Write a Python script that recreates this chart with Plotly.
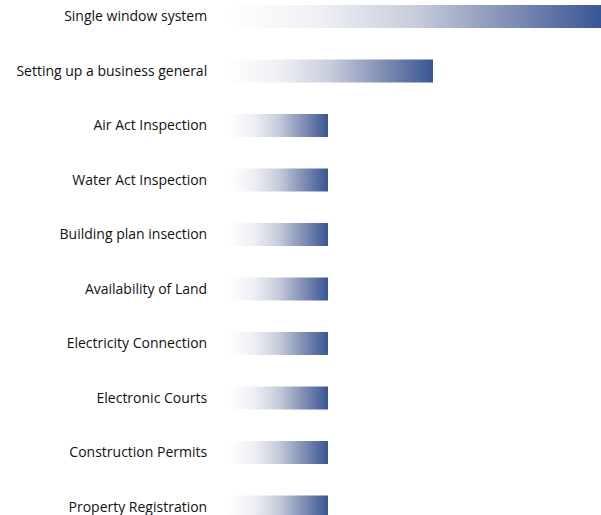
import plotly.graph_objects as go

categories = [
    "Single window system",
    "Setting up a business general",
    "Air Act Inspection",
    "Water Act Inspection",
    "Building plan insection",
    "Availability of Land",
    "Electricity Connection",
    "Electronic Courts",
    "Construction Permits",
    "Property Registration",
]
values = [37.3, 20.5, 10, 10, 10, 10, 10, 10, 10, 10]

BAR_HALF = 0.21
colorscale = [
    [0.0, "rgb(255,255,255)"],
    [0.25, "rgb(239,240,245)"],
    [0.5, "rgb(200,205,220)"],
    [0.75, "rgb(130,144,182)"],
    [1.0, "rgb(56,86,150)"],
]

fig = go.Figure()
for i, (cat, v) in enumerate(zip(categories, values)):
    fig.add_trace(go.Scatter(
        x=[0, v, v, 0, 0],
        y=[i - BAR_HALF, i - BAR_HALF, i + BAR_HALF, i + BAR_HALF, i - BAR_HALF],
        mode="lines",
        line=dict(width=0),
        fill="toself",
        fillgradient=dict(type="horizontal", colorscale=colorscale),
        hoverinfo="text",
        text=f"{cat}: {v}",
        showlegend=False,
    ))

fig.update_layout(
    template="none",
    width=601, height=515,
    margin=dict(l=228, r=0, t=0, b=0, autoexpand=False),
    plot_bgcolor="white", paper_bgcolor="white",
    font=dict(family="Open Sans, Lato, sans-serif", size=14, color="#111111"),
    xaxis=dict(range=[0, max(values)], visible=False, showgrid=False,
               zeroline=False, automargin=False),
    yaxis=dict(
        range=[9.147, -0.303],
        tickvals=list(range(len(categories))),
        ticktext=categories,
        showgrid=False, zeroline=False, showline=False,
        ticks="outside", ticklen=17, tickcolor="rgba(0,0,0,0)",
        automargin=False, ticklabeloverflow="allow",
    ),
)

fig.write_html(
    "out.html",
    config={"displayModeBar": False},
    post_script="document.body.style.margin='0';document.body.style.overflow='hidden';",
)
